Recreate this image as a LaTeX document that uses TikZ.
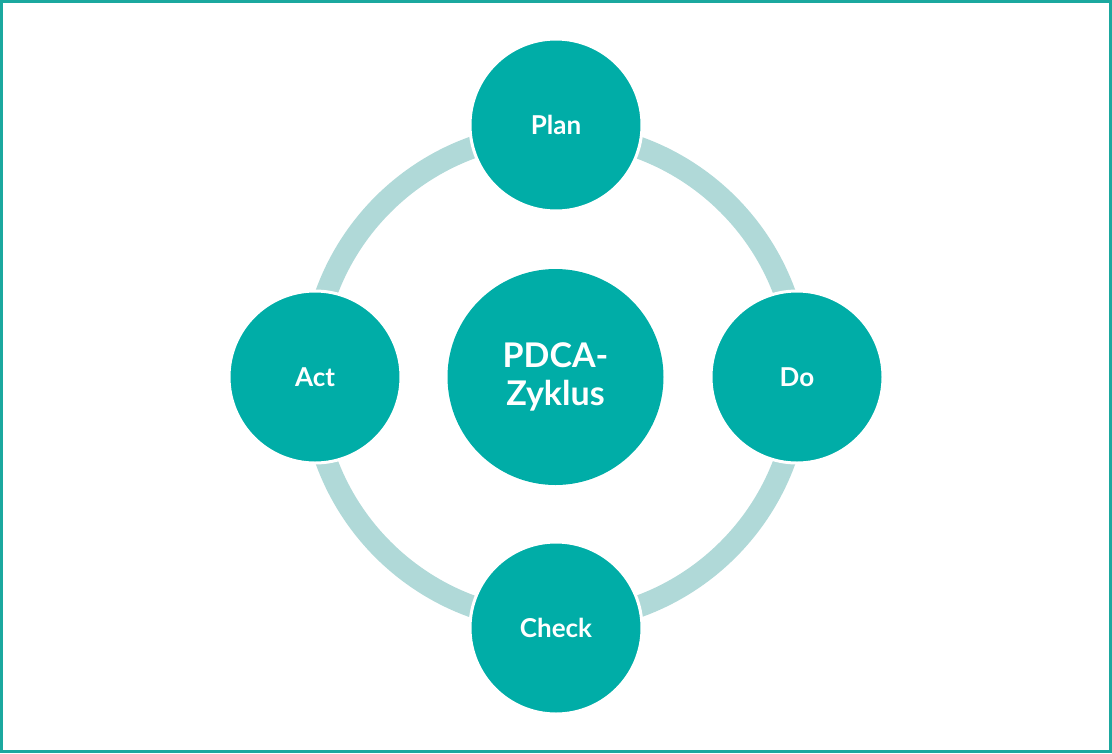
\documentclass[tikz,border=0pt]{standalone}
\usepackage{fontspec}
\setmainfont{Lato}
\definecolor{teal}{HTML}{00ADA7}
\definecolor{ringc}{HTML}{B0D9D8}
\definecolor{frame}{HTML}{1BA89F}
\tikzset{
  phase/.style={circle, fill=teal, draw=white, line width=3pt, minimum size=172pt, inner sep=0pt,
    text=white, font=\fontsize{26}{30}\selectfont\bfseries},
  hub/.style={circle, fill=teal, minimum size=216pt, inner sep=0pt, align=center,
    text=white, font=\fontsize{34}{38}\selectfont\bfseries},
}
\begin{document}
\begin{tikzpicture}[x=1pt,y=-1pt]
\useasboundingbox (0,0) rectangle (1112,753);
\draw[frame, line width=3pt] (1.5,1.5) rectangle (1110.5,751.5);
\coordinate (o) at (555.5,377);
\draw[ringc, line width=22pt] (o) circle[radius=244pt];
\node[hub] (center) at (o) {PDCA-\\Zyklus};
\node[phase] (plan) at (556,125) {Plan};
\node[phase] (do) at (797,377) {Do};
\node[phase] (check) at (556,628) {Check};
\node[phase] (act) at (315,377) {Act};
\end{tikzpicture}
\end{document}
